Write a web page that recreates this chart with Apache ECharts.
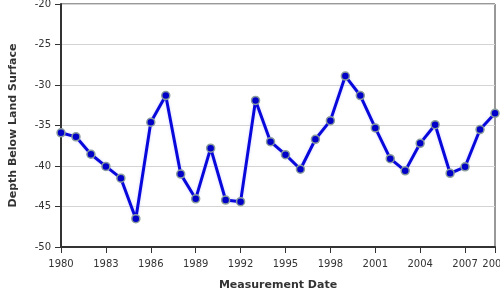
<!DOCTYPE html>
<html>
<head>
<meta charset="utf-8">
<script src="https://cdn.jsdelivr.net/npm/echarts@6/dist/echarts.min.js"></script>
<style>html,body{margin:0;padding:0;background:#fff;}#c{width:500px;height:300px;}</style>
</head>
<body>
<div id="c"></div>
<script>
var years = [1980,1981,1982,1983,1984,1985,1986,1987,1988,1989,1990,1991,1992,1993,1994,1995,1996,1997,1998,1999,2000,2001,2002,2003,2004,2005,2006,2007,2008,2009];
var depths = [-35.9,-36.4,-38.55,-40.05,-41.5,-46.5,-34.6,-31.3,-41.0,-44.05,-37.8,-44.2,-44.4,-31.9,-37.0,-38.6,-40.4,-36.7,-34.4,-28.9,-31.3,-35.3,-39.1,-40.6,-37.2,-34.9,-40.9,-40.1,-35.5,-33.5];
var xAxisName = 'Measurement Date';
var yAxisName = 'Depth Below Land Surface';

var pts = years.map(function (y, i) { return [y, depths[i]]; });
var font = 'DejaVu Sans';
var chart = echarts.init(document.getElementById('c'), null, {renderer: 'canvas'});
chart.setOption({
  animation: false,
  backgroundColor: '#fff',
  grid: {left: 61, right: 5, top: 4, bottom: 53, outerBoundsMode: 'none', containLabel: false, show: true, borderColor: '#333', borderWidth: 1, backgroundColor: 'transparent'},
  xAxis: {
    type: 'value', min: 1980, max: 2009, interval: 3,
    name: xAxisName, nameLocation: 'middle', nameGap: 33,
    nameTextStyle: {fontFamily: font, fontSize: 11, fontWeight: 'bold', color: '#333'},
    axisLine: {show: true, lineStyle: {color: '#333', width: 2}},
    axisTick: {show: true, length: 6, lineStyle: {color: '#333', width: 1}},
    axisLabel: {fontFamily: font, fontSize: 10, color: '#333', margin: 12, hideOverlap: false, formatter: function (v) { return String(v); }},
    splitLine: {show: false}
  },
  yAxis: {
    type: 'value', min: -50, max: -20, interval: 5,
    name: yAxisName, nameLocation: 'middle', nameGap: 42,
    nameTextStyle: {fontFamily: font, fontSize: 11, fontWeight: 'bold', color: '#333'},
    axisLine: {show: true, lineStyle: {color: '#333', width: 2}},
    axisTick: {show: true, length: 6, lineStyle: {color: '#333', width: 1}},
    axisLabel: {fontFamily: font, fontSize: 10, color: '#333', margin: 10},
    splitLine: {show: true, lineStyle: {color: '#d4d4d4', width: 1}}
  },
  series: [{
    type: 'line',
    data: pts,
    symbol: 'circle',
    symbolSize: 8,
    showAllSymbol: true,
    clip: false,
    lineStyle: {color: '#0808dc', width: 3, shadowBlur: 3, shadowColor: 'rgba(200,200,255,0.8)'},
    itemStyle: {color: '#0000c8', borderColor: '#8a9c9c', borderWidth: 1.5}
  }]
});
</script>
</body>
</html>
